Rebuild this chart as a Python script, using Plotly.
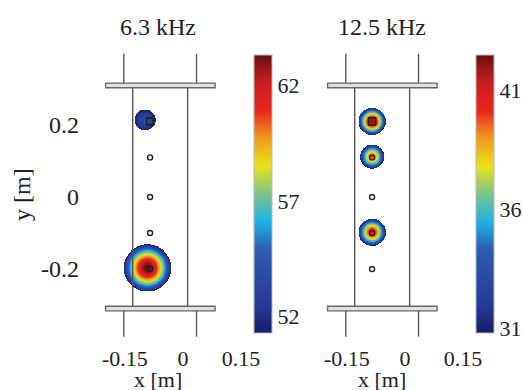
import numpy as np
import plotly.graph_objects as go

W, H = 523, 390


def PX(p):
    return p / W


def PY(p):
    return 1 - p / H


# ---- data ----
panel_titles = ["6.3 kHz", "12.5 kHz"]
src_x = [-0.085, -0.085, -0.085, -0.085, -0.085]
src_y = [0.21, 0.11, 0.0, -0.10, -0.20]

# blobs (centre x, centre y, peak level, radius in m) per panel
blob1_x = [-0.098, -0.092]
blob1_y = [0.214, -0.197]
blob1_peak = [53.8, 63.6]
blob1_rad = [0.027, 0.061]

blob2_x = [-0.085, -0.085, -0.085]
blob2_y = [0.210, 0.112, -0.098]
blob2_peak = [42.4, 40.0, 41.2]
blob2_rad = [0.035, 0.031, 0.035]

cb1_range = [51.3, 63.3]
cb1_ticks = [52, 57, 62]
cb2_range = [30.8, 42.5]
cb2_ticks = [31, 36, 41]

x_ticks = [-0.15, 0, 0.15]
x_ticktext = ["-0.15", "0", "0.15"]
y_ticks = [-0.2, 0, 0.2]
y_ticktext = ["-0.2", "0", "0.2"]

# schematic geometry
bar_x = [-0.200, 0.083]
bar_y = [0.310, -0.310]
bar_half = 0.0065
outer_x = [-0.153, 0.035]
outer_y_top = 0.398
outer_y_bot = -0.388
inner_x = [-0.130, 0.012]

colorscale = [
    [0.0, "#1b1a6a"], [0.1, "#243a94"], [0.3, "#2e5db2"], [0.4, "#20b2e4"],
    [0.5, "#7cc48a"], [0.6, "#e8e21a"], [0.7, "#f39a1e"], [0.8, "#e8271f"],
    [0.9, "#c81e1e"], [1.0, "#6b1010"],
]

FONT = "Liberation Serif, Times New Roman, serif"
FS = 24
CBFS = 22
XTFS = 22

# ---- layout geometry (reference pixels) ----
px_per_m_x = 387.0
px_per_m_y = 360.0
x0_px = [183, 405]          # pixel of x = 0 in each panel
y0_px = 197                 # pixel of y = 0
dl, dr = 80, 245            # panel 1 domain in pixels
ytop, ybot = 45, 343
xr = [(dl - x0_px[0]) / px_per_m_x, (dr - x0_px[0]) / px_per_m_x]
yr = [(y0_px - ybot) / px_per_m_y, (y0_px - ytop) / px_per_m_y]
shift = x0_px[1] - x0_px[0]
dom1 = [PX(dl), PX(dr)]
dom2 = [PX(dl + shift), PX(dr + shift)]
ydom = [PY(ybot), PY(ytop)]


def field(bx, by, bpk, brad, zmin):
    gx = np.arange(-0.2, 0.06, 0.0012)
    gy = np.arange(-0.3, 0.3, 0.0012)
    X, Y = np.meshgrid(gx, gy)
    Z = np.full(X.shape, np.nan)
    for cx, cy, pk, r in zip(bx, by, bpk, brad):
        ry = r * px_per_m_x / px_per_m_y
        rr = np.sqrt(((X - cx) / r) ** 2 + ((Y - cy) / ry) ** 2)
        v = zmin + (pk - zmin) * (1 - rr ** 1.6)
        v = np.where(rr < 1, v, np.nan)
        Z = np.fmax(Z, v)
    return gx, gy, Z


fig = go.Figure()

panels = [
    ("x", "y", blob1_x, blob1_y, blob1_peak, blob1_rad, cb1_range, cb1_ticks, 254),
    ("x2", "y2", blob2_x, blob2_y, blob2_peak, blob2_rad, cb2_range, cb2_ticks, 476),
]

for xa, ya, bx, by, bpk, brad, cbr, cbt, cbx in panels:
    gx, gy, Z = field(bx, by, bpk, brad, cbr[0])
    fig.add_trace(go.Heatmap(
        x=gx, y=gy, z=Z, xaxis=xa, yaxis=ya, zmin=cbr[0], zmax=cbr[1],
        colorscale=colorscale, hoverinfo="skip", zsmooth=False,
        colorbar=dict(
            x=PX(cbx), xanchor="left", xpad=0, ypad=0,
            y=PY(194), yanchor="middle", len=278, lenmode="pixels",
            thickness=18, outlinewidth=1, outlinecolor="#b8b8b8",
            tickvals=cbt, ticktext=[str(t) for t in cbt], ticks="",
            tickfont=dict(family=FONT, size=CBFS, color="#222"),
        ),
    ))
    # schematic lines
    lx, ly = [], []
    for xv in outer_x:
        lx += [xv, xv, None, xv, xv, None]
        ly += [bar_y[0], outer_y_top, None, bar_y[1], outer_y_bot, None]
    for xv in inner_x:
        lx += [xv, xv, None]
        ly += [bar_y[0], bar_y[1], None]
    fig.add_trace(go.Scatter(x=lx, y=ly, mode="lines", xaxis=xa, yaxis=ya,
                             line=dict(color="#555", width=1.4),
                             hoverinfo="skip", showlegend=False))
    for yv in bar_y:
        fig.add_shape(type="rect", xref=xa, yref=ya,
                      x0=bar_x[0], x1=bar_x[1], y0=yv - bar_half, y1=yv + bar_half,
                      line=dict(color="#666", width=1.3), fillcolor="#e2e2e2")
    # source markers
    fig.add_trace(go.Scatter(x=src_x[1:], y=src_y[1:], mode="markers",
                             xaxis=xa, yaxis=ya,
                             marker=dict(symbol="circle-open", size=5,
                                         color="#222", line=dict(width=1.4)),
                             hoverinfo="skip", showlegend=False))
    fig.add_trace(go.Scatter(x=src_x[:1], y=src_y[:1], mode="markers",
                             xaxis=xa, yaxis=ya,
                             marker=dict(symbol="square-open", size=7,
                                         color="#222", line=dict(width=1.6)),
                             hoverinfo="skip", showlegend=False))

axis_common = dict(showgrid=False, zeroline=False, showline=False, ticks="")
yfont = dict(family=FONT, size=FS, color="#222")
xfont = dict(family=FONT, size=XTFS, color="#222")

fig.update_layout(
    width=W, height=H,
    margin=dict(l=0, r=0, t=0, b=0, pad=0, autoexpand=False),
    paper_bgcolor="white", plot_bgcolor="rgba(0,0,0,0)", showlegend=False,
    xaxis=dict(domain=dom1, range=xr, tickvals=x_ticks, ticktext=x_ticktext,
               anchor="y", tickfont=xfont, **axis_common),
    yaxis=dict(domain=ydom, range=yr, tickvals=y_ticks, ticktext=y_ticktext,
               anchor="x", tickfont=yfont, **axis_common),
    xaxis2=dict(domain=dom2, range=xr, tickvals=x_ticks, ticktext=x_ticktext,
                anchor="y2", tickfont=xfont, **axis_common),
    yaxis2=dict(domain=ydom, range=yr, showticklabels=False, anchor="x2",
                tickfont=yfont, **axis_common),
)

ann_font = dict(family=FONT, size=FS, color="#222")
xl_font = dict(family=FONT, size=22, color="#222")
for cx, t in zip([158, 382], panel_titles):
    fig.add_annotation(x=PX(cx), y=PY(27), xref="paper", yref="paper",
                       text=t, showarrow=False, font=ann_font,
                       xanchor="center", yanchor="middle")
    fig.add_annotation(x=PX(cx), y=PY(379), xref="paper", yref="paper",
                       text="x [m]", showarrow=False, font=xl_font,
                       xanchor="center", yanchor="middle")
fig.add_annotation(x=PX(22), y=PY(195), xref="paper", yref="paper",
                   text="y [m]", showarrow=False, font=ann_font, textangle=-90,
                   xanchor="center", yanchor="middle")

reset_css = ("document.documentElement.style.margin='0';"
             "document.documentElement.style.overflow='hidden';"
             "document.body.style.margin='0';"
             "document.body.style.overflow='hidden';")
fig.write_html("out.html", post_script=reset_css,
               config={"displayModeBar": False, "staticPlot": True})
